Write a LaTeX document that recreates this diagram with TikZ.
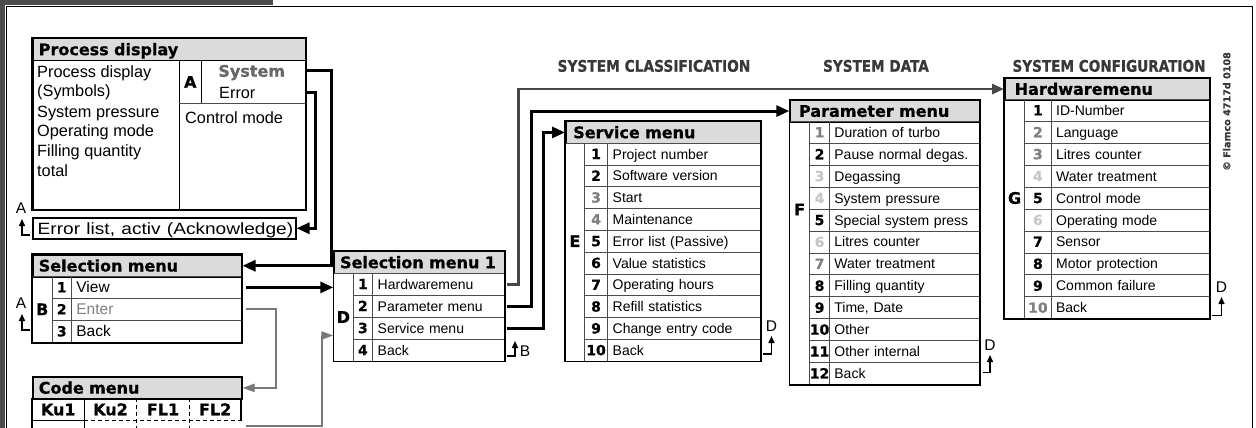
\documentclass[tikz,border=0pt]{standalone}
\usepackage{fontspec}
\setmainfont{Liberation Sans}
\newfontfamily\hvy{DejaVu Sans}[FakeBold=0.7]
\usetikzlibrary{arrows.meta,calc}
\definecolor{hdrgray}{gray}{0.86}
\definecolor{ngray}{gray}{0.5}
\definecolor{nlight}{gray}{0.78}
\definecolor{lgray}{gray}{0.3}
\definecolor{dgray}{gray}{0.22}
\definecolor{cgray}{gray}{0.47}
\definecolor{hgray}{gray}{0.28}
\newcommand\mkrows[7]{%
  \foreach \nn/\clr/\txt [count=\k] in {#7} {%
    \pgfmathsetmacro\yy{#5+#6*(\k-1)}%
    \pgfmathsetmacro\xt{#2+#3}%
    \pgfmathsetmacro\tw{#4-10}%
    \node[numcell, text=\clr, minimum width=#3pt, minimum height=#6pt] (#1n\k) at (#2,\yy) {\nn};
    \node[itemcell, text width=\tw pt, minimum height=#6pt] (#1\k) at (\xt,\yy) {\txt};
  }}
\tikzset{
  hdr/.style={draw, line width=1.5pt, fill=hdrgray, anchor=north west, minimum height=22pt, inner ysep=0pt, align=left, text height=11.5pt, text depth=0pt, font=\hvy\bfseries\fontsize{16}{18}\selectfont},
  numcell/.style={draw=lgray, line width=0.8pt, anchor=north west, inner sep=0pt, text height=10pt, text depth=0pt, font=\hvy\bfseries\fontsize{14}{16}\selectfont},
  itemcell/.style={draw=lgray, line width=0.8pt, anchor=north west, inner xsep=5pt, inner ysep=0pt, align=left, text height=10pt, text depth=0pt, font=\fontsize{14}{16}\selectfont},
  letcol/.style={draw=lgray, line width=0.8pt, anchor=north west, inner sep=0pt},
  letter/.style={font=\hvy\bfseries\fontsize{16}{18}\selectfont, inner sep=0pt, text height=11.5pt, text depth=0pt},
  frame/.style={draw, line width=1.5pt},
  pdtext/.style={anchor=west, inner sep=0pt, text height=11.7pt, text depth=0pt, font=\fontsize{16.3}{19}\selectfont},
  conn/.style={line width=3pt, -{Triangle[length=13pt,width=11pt]}},
  hconn/.style={line width=2.8pt, draw=hgray, -{Triangle[length=12pt,width=10pt]}},
  gconn/.style={line width=2pt, draw=cgray, -{Triangle[length=12pt,width=8pt]}},
  ret/.style={line width=1.5pt, -{Triangle[length=7pt,width=6pt]}},
  retlbl/.style={font=\fontsize{15.5}{18}\selectfont, inner sep=0pt, text height=11pt, text depth=0pt},
  sect/.style={font=\hvy\bfseries\fontsize{16}{18}\selectfont, text=dgray, inner sep=0pt, text height=11.5pt, text depth=0pt},
  codetxt/.style={font=\hvy\bfseries\fontsize{16}{18}\selectfont, inner sep=0pt, text height=11.5pt, text depth=0pt}
}
\begin{document}
\begin{tikzpicture}[x=1pt,y=-1pt]
\useasboundingbox (0,0) rectangle (1256,428);
\clip (0,0) rectangle (1256,428);
% page frame
\fill[black!70] (0,0) rectangle (5,428);
\fill[black!70] (0,0) rectangle (273,5);
\draw[line width=1pt] (6.5,440) -- (6.5,6.5) -- (1252,6.5) -- (1252,440);

% section headers
\node[sect] (scls) at (654,66) {\scalebox{0.86}[1]{SYSTEM CLASSIFICATION}};
\node[sect] (sdat) at (876,66) {\scalebox{0.85}[1]{SYSTEM DATA}};
\node[sect] (scfg) at (1109,66) {\scalebox{0.85}[1]{SYSTEM CONFIGURATION}};
\node[rotate=90, font=\hvy\bfseries\fontsize{9.6}{12}\selectfont, text=dgray, inner sep=0pt] (copy) at (1226.7,111.5) {© Flamco 4717d 0108};

% Process display
\node[hdr, inner xsep=6pt, text width=261pt] (pdh) at (32,37.7) {Process display};
\node[draw, line width=1.5pt, anchor=north west, minimum width=273pt, minimum height=149.5pt, inner sep=0pt] (pd) at (32,59.7) {};
\draw[line width=1.2pt] (179.3,60) -- (179.3,209.3);
\draw[line width=1pt] (201.3,60) -- (201.3,103.3);
\draw[line width=1pt, draw=lgray] (179.3,103.3) -- (305,103.3);
\foreach \s/\yy [count=\k] in {Process display/71.7, (Symbols)/90.7, System pressure/111.7, Operating mode/130.7, Filling quantity/150.7, total/170.7}
  \node[pdtext] (pdt\k) at (37,\yy) {\s};
\node[letter] (pdA) at (190.3,82) {A};
\node[letter, text=black!60] (pdsys) at (251.7,71) {System};
\node[pdtext] (pderr) at (219,92.5) {Error};
\node[pdtext] (pdcm) at (185,118) {Control mode};
\draw[frame] (pdh.north west) rectangle (pd.south east);

% Error list
\node[draw, line width=1.5pt, anchor=north west, minimum width=263pt, minimum height=21pt, inner xsep=5pt, inner ysep=0pt, text width=253pt, align=left, text height=11.7pt, text depth=0pt, font=\fontsize{16.3}{19}\selectfont] (err) at (32,217) {\scalebox{1.17}[1]{Error list, activ (Acknowledge)}};

% Selection menu
\node[hdr, inner xsep=6pt, text width=197pt] (selh) at (32,254) {Selection menu};
\node[letcol, minimum width=19.7pt, minimum height=66pt] (selL) at (32,276) {};
\node[letter] (selB) at (selL.center) {B};
\mkrows{sel}{51.7}{19.3}{170}{276}{22}{1/black/\fontsize{15.5}{17}\selectfont View, 2/black/{\color{ngray}\fontsize{15.5}{17}\selectfont Enter}, 3/black/\fontsize{15.5}{17}\selectfont Back}
\draw[frame] (selh.north west) rectangle (sel3.south east);

% Code menu
\node[hdr, inner xsep=6pt, text width=197pt, minimum height=22.3pt] (codeh) at (32,376) {Code menu};
\draw[line width=1.5pt] (32,398.3) -- (32,440);
\draw[line width=1.5pt] (241,398.3) -- (241,420.7);
\draw[line width=1.2pt] (32,420.7) -- (84.3,420.7);
\draw[line width=1.2pt, dash pattern=on 4pt off 3pt] (84.3,420.7) -- (241,420.7);
\draw[line width=1.2pt] (84.3,398.3) -- (84.3,440);
\draw[line width=1.2pt, dash pattern=on 4pt off 3pt] (136.7,398.3) -- (136.7,440);
\draw[line width=1.2pt, dash pattern=on 4pt off 3pt] (189.3,398.3) -- (189.3,440);
\node[codetxt] (code1) at (58.2,409.5) {Ku1};
\node[codetxt] (code2) at (110.5,409.5) {Ku2};
\node[codetxt] (code3) at (163,409.5) {FL1};
\node[codetxt] (code4) at (215.2,409.5) {FL2};
\coordinate (codeout) at (241,426);

% Selection menu 1
\node[hdr, inner xsep=6pt, text width=158.7pt] (sah) at (333.3,250.7) {Selection menu 1};
\node[letcol, minimum width=19.4pt, minimum height=88pt] (saL) at (333.3,272.7) {};
\node[letter] (saD) at (saL.center) {D};
\mkrows{sa}{352.7}{19.6}{131.7}{272.7}{22}{1/black/Hardwaremenu, 2/black/Parameter menu, 3/black/Service menu, 4/black/Back}
\draw[frame] (sah.north west) rectangle (sa4.south east);
\coordinate (sain) at (333.3,335.5);

% Service menu
\node[hdr, inner xsep=7.5pt, text width=180pt] (svch) at (565,120.7) {Service menu};
\node[letcol, minimum width=19pt, minimum height=218pt] (svcL) at (565,142.7) {};
\mkrows{svc}{584}{23.3}{152.7}{142.7}{21.8}{1/black/Project number, 2/black/Software version, 3/ngray/Start, 4/ngray/Maintenance, 5/black/Error list (Passive), 6/black/Value statistics, 7/black/Operating hours, 8/black/Refill statistics, 9/black/Change entry code, 10/black/Back}
\node[letter] (svcE) at (svcL.center |- svc5) {E};
\draw[frame] (svch.north west) rectangle (svc10.south east);

% Parameter menu
\node[hdr, inner xsep=9pt, text width=172pt] (parh) at (789.3,99.3) {Parameter menu};
\node[letcol, minimum width=20pt, minimum height=263pt] (parL) at (789.3,121) {};
\mkrows{par}{809.3}{19.7}{150.3}{121}{21.92}{1/ngray/Duration of turbo, 2/black/Pause normal degas., 3/nlight/Degassing, 4/nlight/System pressure, 5/black/Special system press, 6/nlight/Litres counter, 7/ngray/Water treatment, 8/black/Filling quantity, 9/black/{Time, Date}, 10/black/Other, 11/black/Other internal, 12/black/Back}
\node[letter] (parF) at (parL.center |- par4.south) {F};
\draw[frame] (parh.north west) rectangle (par12.south east);

% Hardwaremenu
\node[hdr, inner xsep=10pt, text width=185.3pt] (hwh) at (1004,77.3) {Hardwaremenu};
\node[letcol, minimum width=20.3pt, minimum height=219.3pt] (hwL) at (1004,99) {};
\mkrows{hw}{1024.3}{26.4}{158.6}{99}{21.93}{1/black/ID-Number, 2/ngray/Language, 3/ngray/Litres counter, 4/nlight/Water treatment, 5/black/Control mode, 6/nlight/Operating mode, 7/black/Sensor, 8/black/Motor protection, 9/black/Common failure, 10/ngray/Back}
\node[letter] (hwG) at (hwL.center |- hw5) {G};
\draw[frame] (hwh.north west) rectangle (hw10.south east);

% connectors
\draw[conn] (pd.east |- pdsys) -- ++(25,0) |- (selh.east);
\draw[conn] (pd.east |- pderr) -- ++(9,0) |- (err.east);
\draw[conn] ([xshift=4pt]sel1.east) -- (sel1.east -| saL.west);
\draw[gconn] ([xshift=4pt]sel2.east) -- ++(30,0) |- (codeh.east);
\draw[gconn] ([xshift=5pt]codeout) -- ++(76,0) |- (sain);
\draw[hconn] ([xshift=2pt]sa1.east) -- ++(12,0) |- (hwh.west);
\draw[conn] ([xshift=2pt]sa2.east) -- ++(25,0) |- (parh.west);
\draw[conn] ([xshift=2pt]sa3.east) -- ++(37,0) |- (svch.west);

% return marks
\draw[ret] (30,235) -- (22,235) -- (22,219);
\node[retlbl] (lA1) at (21,207.5) {A};
\draw[ret] (30,330) -- (22,330) -- (22,314);
\node[retlbl] (lA2) at (21,302.5) {A};
\draw[ret] (507,356) -- (515,356) -- (515,341);
\node[retlbl] (lB) at (525,351) {B};
\draw[ret] (763,354) -- (771.5,354) -- (771.5,336);
\node[retlbl] (lD1) at (771.5,326) {D};
\draw[ret] (982.5,372.5) -- (990,372.5) -- (990,355);
\node[retlbl] (lD2) at (990,345) {D};
\draw[ret] (1212,315.5) -- (1221.5,315.5) -- (1221.5,297);
\node[retlbl] (lD3) at (1221.5,286.5) {D};
\end{tikzpicture}
\end{document}
